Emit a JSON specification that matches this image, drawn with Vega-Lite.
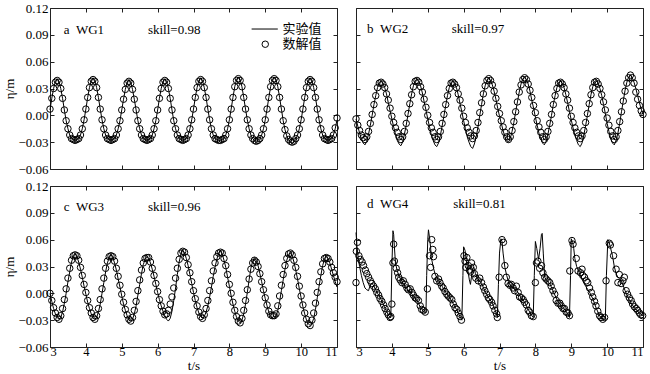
{
"$schema":"https://vega.github.io/schema/vega-lite/v6.json",
"background":"white",
"padding":{"left":3,"top":1,"right":0,"bottom":0},
"datasets":{"w":[
{"p":"a","t":3,"e":0.006,"n":0.007},{"p":"a","t":3.05,"e":0.019,"n":0.019},{"p":"a","t":3.1,"e":0.030,"n":0.030},{"p":"a","t":3.15,"e":0.038,"n":0.037},{"p":"a","t":3.2,"e":0.041,"n":0.039},{"p":"a","t":3.25,"e":0.038,"n":0.037},{"p":"a","t":3.3,"e":0.030,"n":0.030},{"p":"a","t":3.35,"e":0.019,"n":0.019},{"p":"a","t":3.4,"e":0.006,"n":0.006},{"p":"a","t":3.45,"e":-0.006,"n":-0.006},{"p":"a","t":3.5,"e":-0.015,"n":-0.015},{"p":"a","t":3.55,"e":-0.022,"n":-0.022},{"p":"a","t":3.6,"e":-0.026,"n":-0.026},{"p":"a","t":3.65,"e":-0.027,"n":-0.027},{"p":"a","t":3.7,"e":-0.028,"n":-0.028},{"p":"a","t":3.75,"e":-0.027,"n":-0.027},{"p":"a","t":3.8,"e":-0.026,"n":-0.026},{"p":"a","t":3.85,"e":-0.022,"n":-0.022},{"p":"a","t":3.9,"e":-0.015,"n":-0.015},{"p":"a","t":3.95,"e":-0.005,"n":-0.005},
{"p":"a","t":4,"e":0.007,"n":0.007},{"p":"a","t":4.05,"e":0.020,"n":0.020},{"p":"a","t":4.1,"e":0.031,"n":0.031},{"p":"a","t":4.15,"e":0.039,"n":0.038},{"p":"a","t":4.2,"e":0.042,"n":0.040},{"p":"a","t":4.25,"e":0.039,"n":0.038},{"p":"a","t":4.3,"e":0.031,"n":0.031},{"p":"a","t":4.35,"e":0.020,"n":0.020},{"p":"a","t":4.4,"e":0.007,"n":0.007},{"p":"a","t":4.45,"e":-0.005,"n":-0.005},{"p":"a","t":4.5,"e":-0.015,"n":-0.015},{"p":"a","t":4.55,"e":-0.022,"n":-0.022},{"p":"a","t":4.6,"e":-0.026,"n":-0.026},{"p":"a","t":4.65,"e":-0.027,"n":-0.027},{"p":"a","t":4.7,"e":-0.028,"n":-0.028},{"p":"a","t":4.75,"e":-0.027,"n":-0.027},{"p":"a","t":4.8,"e":-0.026,"n":-0.026},{"p":"a","t":4.85,"e":-0.022,"n":-0.022},{"p":"a","t":4.9,"e":-0.015,"n":-0.015},{"p":"a","t":4.95,"e":-0.006,"n":-0.006},
{"p":"a","t":5,"e":0.006,"n":0.006},{"p":"a","t":5.05,"e":0.018,"n":0.018},{"p":"a","t":5.1,"e":0.029,"n":0.029},{"p":"a","t":5.15,"e":0.037,"n":0.036},{"p":"a","t":5.2,"e":0.040,"n":0.038},{"p":"a","t":5.25,"e":0.037,"n":0.036},{"p":"a","t":5.3,"e":0.029,"n":0.029},{"p":"a","t":5.35,"e":0.018,"n":0.018},{"p":"a","t":5.4,"e":0.006,"n":0.006},{"p":"a","t":5.45,"e":-0.006,"n":-0.006},{"p":"a","t":5.5,"e":-0.015,"n":-0.015},{"p":"a","t":5.55,"e":-0.022,"n":-0.022},{"p":"a","t":5.6,"e":-0.026,"n":-0.026},{"p":"a","t":5.65,"e":-0.027,"n":-0.027},{"p":"a","t":5.7,"e":-0.028,"n":-0.028},{"p":"a","t":5.75,"e":-0.027,"n":-0.027},{"p":"a","t":5.8,"e":-0.026,"n":-0.026},{"p":"a","t":5.85,"e":-0.022,"n":-0.022},{"p":"a","t":5.9,"e":-0.015,"n":-0.015},{"p":"a","t":5.95,"e":-0.006,"n":-0.006},
{"p":"a","t":6,"e":0.006,"n":0.006},{"p":"a","t":6.05,"e":0.019,"n":0.019},{"p":"a","t":6.1,"e":0.030,"n":0.030},{"p":"a","t":6.15,"e":0.038,"n":0.037},{"p":"a","t":6.2,"e":0.041,"n":0.039},{"p":"a","t":6.25,"e":0.038,"n":0.037},{"p":"a","t":6.3,"e":0.030,"n":0.030},{"p":"a","t":6.35,"e":0.019,"n":0.019},{"p":"a","t":6.4,"e":0.006,"n":0.006},{"p":"a","t":6.45,"e":-0.006,"n":-0.006},{"p":"a","t":6.5,"e":-0.015,"n":-0.015},{"p":"a","t":6.55,"e":-0.022,"n":-0.022},{"p":"a","t":6.6,"e":-0.026,"n":-0.026},{"p":"a","t":6.65,"e":-0.027,"n":-0.027},{"p":"a","t":6.7,"e":-0.028,"n":-0.028},{"p":"a","t":6.75,"e":-0.027,"n":-0.027},{"p":"a","t":6.8,"e":-0.026,"n":-0.026},{"p":"a","t":6.85,"e":-0.022,"n":-0.022},{"p":"a","t":6.9,"e":-0.015,"n":-0.015},{"p":"a","t":6.95,"e":-0.005,"n":-0.005},
{"p":"a","t":7,"e":0.007,"n":0.007},{"p":"a","t":7.05,"e":0.020,"n":0.020},{"p":"a","t":7.1,"e":0.031,"n":0.031},{"p":"a","t":7.15,"e":0.039,"n":0.038},{"p":"a","t":7.2,"e":0.042,"n":0.040},{"p":"a","t":7.25,"e":0.039,"n":0.038},{"p":"a","t":7.3,"e":0.031,"n":0.031},{"p":"a","t":7.35,"e":0.020,"n":0.020},{"p":"a","t":7.4,"e":0.007,"n":0.007},{"p":"a","t":7.45,"e":-0.005,"n":-0.005},{"p":"a","t":7.5,"e":-0.015,"n":-0.015},{"p":"a","t":7.55,"e":-0.022,"n":-0.022},{"p":"a","t":7.6,"e":-0.026,"n":-0.026},{"p":"a","t":7.65,"e":-0.027,"n":-0.027},{"p":"a","t":7.7,"e":-0.028,"n":-0.028},{"p":"a","t":7.75,"e":-0.028,"n":-0.028},{"p":"a","t":7.8,"e":-0.027,"n":-0.027},{"p":"a","t":7.85,"e":-0.026,"n":-0.026},{"p":"a","t":7.9,"e":-0.022,"n":-0.022},{"p":"a","t":7.95,"e":-0.015,"n":-0.015},
{"p":"a","t":8,"e":-0.005,"n":-0.005},{"p":"a","t":8.05,"e":0.007,"n":0.007},{"p":"a","t":8.1,"e":0.020,"n":0.020},{"p":"a","t":8.15,"e":0.032,"n":0.032},{"p":"a","t":8.2,"e":0.040,"n":0.039},{"p":"a","t":8.25,"e":0.043,"n":0.041},{"p":"a","t":8.3,"e":0.040,"n":0.039},{"p":"a","t":8.35,"e":0.032,"n":0.032},{"p":"a","t":8.4,"e":0.020,"n":0.020},{"p":"a","t":8.45,"e":0.007,"n":0.007},{"p":"a","t":8.5,"e":-0.005,"n":-0.005},{"p":"a","t":8.55,"e":-0.015,"n":-0.015},{"p":"a","t":8.6,"e":-0.022,"n":-0.022},{"p":"a","t":8.65,"e":-0.026,"n":-0.026},{"p":"a","t":8.7,"e":-0.028,"n":-0.028},{"p":"a","t":8.75,"e":-0.029,"n":-0.029},{"p":"a","t":8.8,"e":-0.028,"n":-0.028},{"p":"a","t":8.85,"e":-0.026,"n":-0.026},{"p":"a","t":8.9,"e":-0.022,"n":-0.022},{"p":"a","t":8.95,"e":-0.015,"n":-0.015},
{"p":"a","t":9,"e":-0.005,"n":-0.005},{"p":"a","t":9.05,"e":0.007,"n":0.007},{"p":"a","t":9.1,"e":0.020,"n":0.020},{"p":"a","t":9.15,"e":0.032,"n":0.032},{"p":"a","t":9.2,"e":0.040,"n":0.039},{"p":"a","t":9.25,"e":0.043,"n":0.041},{"p":"a","t":9.3,"e":0.040,"n":0.039},{"p":"a","t":9.35,"e":0.032,"n":0.032},{"p":"a","t":9.4,"e":0.020,"n":0.020},{"p":"a","t":9.45,"e":0.007,"n":0.007},{"p":"a","t":9.5,"e":-0.006,"n":-0.006},{"p":"a","t":9.55,"e":-0.016,"n":-0.016},{"p":"a","t":9.6,"e":-0.023,"n":-0.023},{"p":"a","t":9.65,"e":-0.028,"n":-0.027},{"p":"a","t":9.7,"e":-0.030,"n":-0.029},{"p":"a","t":9.75,"e":-0.031,"n":-0.030},{"p":"a","t":9.8,"e":-0.030,"n":-0.029},{"p":"a","t":9.85,"e":-0.027,"n":-0.026},{"p":"a","t":9.9,"e":-0.022,"n":-0.022},{"p":"a","t":9.95,"e":-0.015,"n":-0.015},
{"p":"a","t":10,"e":-0.005,"n":-0.005},{"p":"a","t":10.05,"e":0.007,"n":0.007},{"p":"a","t":10.1,"e":0.020,"n":0.020},{"p":"a","t":10.15,"e":0.031,"n":0.031},{"p":"a","t":10.2,"e":0.039,"n":0.038},{"p":"a","t":10.25,"e":0.042,"n":0.040},{"p":"a","t":10.3,"e":0.039,"n":0.038},{"p":"a","t":10.35,"e":0.031,"n":0.031},{"p":"a","t":10.4,"e":0.020,"n":0.020},{"p":"a","t":10.45,"e":0.007,"n":0.007},{"p":"a","t":10.5,"e":-0.005,"n":-0.005},{"p":"a","t":10.55,"e":-0.015,"n":-0.015},{"p":"a","t":10.6,"e":-0.022,"n":-0.022},{"p":"a","t":10.65,"e":-0.026,"n":-0.026},{"p":"a","t":10.7,"e":-0.027,"n":-0.027},{"p":"a","t":10.75,"e":-0.028,"n":-0.028},{"p":"a","t":10.8,"e":-0.027,"n":-0.027},{"p":"a","t":10.85,"e":-0.026,"n":-0.026},{"p":"a","t":10.9,"e":-0.022,"n":-0.022},{"p":"a","t":10.95,"e":-0.015,"n":-0.014},{"p":"a","t":11,"e":-0.005,"n":-0.003},

{"p":"b","t":3,"e":-0.004,"n":-0.004},{"p":"b","t":3.05,"e":-0.012,"n":-0.011},{"p":"b","t":3.1,"e":-0.020,"n":-0.017},{"p":"b","t":3.15,"e":-0.026,"n":-0.022},{"p":"b","t":3.2,"e":-0.031,"n":-0.025},{"p":"b","t":3.25,"e":-0.033,"n":-0.027},{"p":"b","t":3.3,"e":-0.029,"n":-0.024},{"p":"b","t":3.35,"e":-0.021,"n":-0.018},{"p":"b","t":3.4,"e":-0.011,"n":-0.009},{"p":"b","t":3.45,"e":0.000,"n":0.001},{"p":"b","t":3.5,"e":0.012,"n":0.012},{"p":"b","t":3.55,"e":0.022,"n":0.022},{"p":"b","t":3.6,"e":0.031,"n":0.031},{"p":"b","t":3.65,"e":0.037,"n":0.036},{"p":"b","t":3.7,"e":0.038,"n":0.037},{"p":"b","t":3.75,"e":0.036,"n":0.035},{"p":"b","t":3.8,"e":0.031,"n":0.031},{"p":"b","t":3.85,"e":0.024,"n":0.024},{"p":"b","t":3.9,"e":0.014,"n":0.017},{"p":"b","t":3.95,"e":0.005,"n":0.008},
{"p":"b","t":4,"e":-0.004,"n":-0.001},{"p":"b","t":4.05,"e":-0.013,"n":-0.008},{"p":"b","t":4.1,"e":-0.021,"n":-0.014},{"p":"b","t":4.15,"e":-0.028,"n":-0.019},{"p":"b","t":4.2,"e":-0.032,"n":-0.024},{"p":"b","t":4.25,"e":-0.034,"n":-0.027},{"p":"b","t":4.3,"e":-0.030,"n":-0.024},{"p":"b","t":4.35,"e":-0.021,"n":-0.018},{"p":"b","t":4.4,"e":-0.011,"n":-0.009},{"p":"b","t":4.45,"e":0.001,"n":0.002},{"p":"b","t":4.5,"e":0.013,"n":0.013},{"p":"b","t":4.55,"e":0.024,"n":0.023},{"p":"b","t":4.6,"e":0.033,"n":0.032},{"p":"b","t":4.65,"e":0.039,"n":0.038},{"p":"b","t":4.7,"e":0.040,"n":0.039},{"p":"b","t":4.75,"e":0.038,"n":0.037},{"p":"b","t":4.8,"e":0.033,"n":0.032},{"p":"b","t":4.85,"e":0.025,"n":0.026},{"p":"b","t":4.9,"e":0.015,"n":0.018},{"p":"b","t":4.95,"e":0.006,"n":0.009},
{"p":"b","t":5,"e":-0.004,"n":0.000},{"p":"b","t":5.05,"e":-0.013,"n":-0.008},{"p":"b","t":5.1,"e":-0.022,"n":-0.014},{"p":"b","t":5.15,"e":-0.028,"n":-0.019},{"p":"b","t":5.2,"e":-0.033,"n":-0.024},{"p":"b","t":5.25,"e":-0.035,"n":-0.027},{"p":"b","t":5.3,"e":-0.031,"n":-0.024},{"p":"b","t":5.35,"e":-0.023,"n":-0.018},{"p":"b","t":5.4,"e":-0.012,"n":-0.009},{"p":"b","t":5.45,"e":-0.001,"n":0.001},{"p":"b","t":5.5,"e":0.011,"n":0.012},{"p":"b","t":5.55,"e":0.022,"n":0.022},{"p":"b","t":5.6,"e":0.031,"n":0.030},{"p":"b","t":5.65,"e":0.037,"n":0.036},{"p":"b","t":5.7,"e":0.038,"n":0.037},{"p":"b","t":5.75,"e":0.036,"n":0.035},{"p":"b","t":5.8,"e":0.031,"n":0.031},{"p":"b","t":5.85,"e":0.023,"n":0.024},{"p":"b","t":5.9,"e":0.013,"n":0.017},{"p":"b","t":5.95,"e":0.004,"n":0.008},
{"p":"b","t":6,"e":-0.006,"n":-0.001},{"p":"b","t":6.05,"e":-0.015,"n":-0.008},{"p":"b","t":6.1,"e":-0.024,"n":-0.014},{"p":"b","t":6.15,"e":-0.030,"n":-0.019},{"p":"b","t":6.2,"e":-0.035,"n":-0.023},{"p":"b","t":6.25,"e":-0.037,"n":-0.026},{"p":"b","t":6.3,"e":-0.032,"n":-0.023},{"p":"b","t":6.35,"e":-0.024,"n":-0.017},{"p":"b","t":6.4,"e":-0.013,"n":-0.008},{"p":"b","t":6.45,"e":0.000,"n":0.003},{"p":"b","t":6.5,"e":0.012,"n":0.014},{"p":"b","t":6.55,"e":0.024,"n":0.024},{"p":"b","t":6.6,"e":0.033,"n":0.033},{"p":"b","t":6.65,"e":0.039,"n":0.039},{"p":"b","t":6.7,"e":0.041,"n":0.041},{"p":"b","t":6.75,"e":0.039,"n":0.039},{"p":"b","t":6.8,"e":0.034,"n":0.034},{"p":"b","t":6.85,"e":0.027,"n":0.027},{"p":"b","t":6.9,"e":0.018,"n":0.019},{"p":"b","t":6.95,"e":0.008,"n":0.010},
{"p":"b","t":7,"e":-0.001,"n":0.002},{"p":"b","t":7.05,"e":-0.009,"n":-0.006},{"p":"b","t":7.1,"e":-0.017,"n":-0.013},{"p":"b","t":7.15,"e":-0.024,"n":-0.019},{"p":"b","t":7.2,"e":-0.028,"n":-0.024},{"p":"b","t":7.25,"e":-0.030,"n":-0.027},{"p":"b","t":7.3,"e":-0.026,"n":-0.024},{"p":"b","t":7.35,"e":-0.018,"n":-0.017},{"p":"b","t":7.4,"e":-0.008,"n":-0.007},{"p":"b","t":7.45,"e":0.004,"n":0.004},{"p":"b","t":7.5,"e":0.015,"n":0.015},{"p":"b","t":7.55,"e":0.026,"n":0.026},{"p":"b","t":7.6,"e":0.035,"n":0.034},{"p":"b","t":7.65,"e":0.041,"n":0.040},{"p":"b","t":7.7,"e":0.042,"n":0.042},{"p":"b","t":7.75,"e":0.040,"n":0.040},{"p":"b","t":7.8,"e":0.035,"n":0.035},{"p":"b","t":7.85,"e":0.027,"n":0.028},{"p":"b","t":7.9,"e":0.017,"n":0.020},{"p":"b","t":7.95,"e":0.008,"n":0.011},
{"p":"b","t":8,"e":-0.002,"n":0.003},{"p":"b","t":8.05,"e":-0.011,"n":-0.006},{"p":"b","t":8.1,"e":-0.020,"n":-0.013},{"p":"b","t":8.15,"e":-0.026,"n":-0.019},{"p":"b","t":8.2,"e":-0.031,"n":-0.024},{"p":"b","t":8.25,"e":-0.033,"n":-0.027},{"p":"b","t":8.3,"e":-0.029,"n":-0.024},{"p":"b","t":8.35,"e":-0.021,"n":-0.018},{"p":"b","t":8.4,"e":-0.011,"n":-0.009},{"p":"b","t":8.45,"e":0.000,"n":0.001},{"p":"b","t":8.5,"e":0.012,"n":0.012},{"p":"b","t":8.55,"e":0.022,"n":0.022},{"p":"b","t":8.6,"e":0.031,"n":0.030},{"p":"b","t":8.65,"e":0.037,"n":0.036},{"p":"b","t":8.7,"e":0.038,"n":0.037},{"p":"b","t":8.75,"e":0.036,"n":0.035},{"p":"b","t":8.8,"e":0.031,"n":0.031},{"p":"b","t":8.85,"e":0.023,"n":0.024},{"p":"b","t":8.9,"e":0.014,"n":0.017},{"p":"b","t":8.95,"e":0.004,"n":0.008},
{"p":"b","t":9,"e":-0.005,"n":-0.001},{"p":"b","t":9.05,"e":-0.014,"n":-0.008},{"p":"b","t":9.1,"e":-0.022,"n":-0.014},{"p":"b","t":9.15,"e":-0.028,"n":-0.019},{"p":"b","t":9.2,"e":-0.033,"n":-0.023},{"p":"b","t":9.25,"e":-0.035,"n":-0.026},{"p":"b","t":9.3,"e":-0.031,"n":-0.023},{"p":"b","t":9.35,"e":-0.022,"n":-0.017},{"p":"b","t":9.4,"e":-0.012,"n":-0.008},{"p":"b","t":9.45,"e":0.000,"n":0.002},{"p":"b","t":9.5,"e":0.012,"n":0.013},{"p":"b","t":9.55,"e":0.023,"n":0.023},{"p":"b","t":9.6,"e":0.032,"n":0.031},{"p":"b","t":9.65,"e":0.038,"n":0.037},{"p":"b","t":9.7,"e":0.039,"n":0.038},{"p":"b","t":9.75,"e":0.036,"n":0.035},{"p":"b","t":9.8,"e":0.030,"n":0.030},{"p":"b","t":9.85,"e":0.022,"n":0.023},{"p":"b","t":9.9,"e":0.012,"n":0.015},{"p":"b","t":9.95,"e":0.002,"n":0.006},
{"p":"b","t":10,"e":-0.009,"n":-0.003},{"p":"b","t":10.05,"e":-0.018,"n":-0.011},{"p":"b","t":10.1,"e":-0.026,"n":-0.018},{"p":"b","t":10.15,"e":-0.031,"n":-0.023},{"p":"b","t":10.2,"e":-0.033,"n":-0.027},{"p":"b","t":10.25,"e":-0.028,"n":-0.024},{"p":"b","t":10.3,"e":-0.020,"n":-0.017},{"p":"b","t":10.35,"e":-0.009,"n":-0.007},{"p":"b","t":10.4,"e":0.004,"n":0.004},{"p":"b","t":10.45,"e":0.016,"n":0.016},{"p":"b","t":10.5,"e":0.028,"n":0.027},{"p":"b","t":10.55,"e":0.037,"n":0.036},{"p":"b","t":10.6,"e":0.043,"n":0.042},{"p":"b","t":10.65,"e":0.045,"n":0.045},{"p":"b","t":10.7,"e":0.042,"n":0.042},{"p":"b","t":10.75,"e":0.037,"n":0.036},{"p":"b","t":10.8,"e":0.030,"n":0.026},{"p":"b","t":10.85,"e":0.022,"n":0.018},{"p":"b","t":10.9,"e":0.014,"n":0.011},{"p":"b","t":10.95,"e":0.007,"n":0.005},{"p":"b","t":11,"e":0.001,"n":0.001},

{"p":"c","t":3,"e":0.000,"n":0.000},{"p":"c","t":3.05,"e":-0.009,"n":-0.008},{"p":"c","t":3.1,"e":-0.017,"n":-0.016},{"p":"c","t":3.15,"e":-0.023,"n":-0.022},{"p":"c","t":3.2,"e":-0.027,"n":-0.027},{"p":"c","t":3.25,"e":-0.029,"n":-0.029},{"p":"c","t":3.3,"e":-0.027,"n":-0.025},{"p":"c","t":3.35,"e":-0.021,"n":-0.017},{"p":"c","t":3.4,"e":-0.011,"n":-0.007},{"p":"c","t":3.45,"e":0.000,"n":0.005},{"p":"c","t":3.5,"e":0.013,"n":0.017},{"p":"c","t":3.55,"e":0.024,"n":0.028},{"p":"c","t":3.6,"e":0.035,"n":0.037},{"p":"c","t":3.65,"e":0.041,"n":0.042},{"p":"c","t":3.7,"e":0.044,"n":0.043},{"p":"c","t":3.75,"e":0.041,"n":0.042},{"p":"c","t":3.8,"e":0.035,"n":0.037},{"p":"c","t":3.85,"e":0.027,"n":0.029},{"p":"c","t":3.9,"e":0.018,"n":0.020},{"p":"c","t":3.95,"e":0.008,"n":0.010},
{"p":"c","t":4,"e":-0.001,"n":0.001},{"p":"c","t":4.05,"e":-0.010,"n":-0.008},{"p":"c","t":4.1,"e":-0.017,"n":-0.016},{"p":"c","t":4.15,"e":-0.023,"n":-0.022},{"p":"c","t":4.2,"e":-0.028,"n":-0.027},{"p":"c","t":4.25,"e":-0.029,"n":-0.029},{"p":"c","t":4.3,"e":-0.027,"n":-0.025},{"p":"c","t":4.35,"e":-0.021,"n":-0.017},{"p":"c","t":4.4,"e":-0.012,"n":-0.007},{"p":"c","t":4.45,"e":0.000,"n":0.005},{"p":"c","t":4.5,"e":0.012,"n":0.017},{"p":"c","t":4.55,"e":0.024,"n":0.028},{"p":"c","t":4.6,"e":0.034,"n":0.036},{"p":"c","t":4.65,"e":0.040,"n":0.041},{"p":"c","t":4.7,"e":0.043,"n":0.042},{"p":"c","t":4.75,"e":0.040,"n":0.041},{"p":"c","t":4.8,"e":0.034,"n":0.036},{"p":"c","t":4.85,"e":0.026,"n":0.028},{"p":"c","t":4.9,"e":0.016,"n":0.019},{"p":"c","t":4.95,"e":0.007,"n":0.009},
{"p":"c","t":5,"e":-0.003,"n":-0.001},{"p":"c","t":5.05,"e":-0.012,"n":-0.010},{"p":"c","t":5.1,"e":-0.019,"n":-0.018},{"p":"c","t":5.15,"e":-0.025,"n":-0.024},{"p":"c","t":5.2,"e":-0.030,"n":-0.029},{"p":"c","t":5.25,"e":-0.031,"n":-0.031},{"p":"c","t":5.3,"e":-0.029,"n":-0.027},{"p":"c","t":5.35,"e":-0.023,"n":-0.019},{"p":"c","t":5.4,"e":-0.014,"n":-0.009},{"p":"c","t":5.45,"e":-0.002,"n":0.003},{"p":"c","t":5.5,"e":0.010,"n":0.015},{"p":"c","t":5.55,"e":0.022,"n":0.026},{"p":"c","t":5.6,"e":0.032,"n":0.034},{"p":"c","t":5.65,"e":0.038,"n":0.039},{"p":"c","t":5.7,"e":0.041,"n":0.040},{"p":"c","t":5.75,"e":0.039,"n":0.040},{"p":"c","t":5.8,"e":0.034,"n":0.035},{"p":"c","t":5.85,"e":0.027,"n":0.028},{"p":"c","t":5.9,"e":0.019,"n":0.020},{"p":"c","t":5.95,"e":0.010,"n":0.011},
{"p":"c","t":6,"e":0.001,"n":0.002},{"p":"c","t":6.05,"e":-0.007,"n":-0.007},{"p":"c","t":6.1,"e":-0.014,"n":-0.014},{"p":"c","t":6.15,"e":-0.020,"n":-0.020},{"p":"c","t":6.2,"e":-0.025,"n":-0.024},{"p":"c","t":6.25,"e":-0.029,"n":-0.023},{"p":"c","t":6.3,"e":-0.031,"n":-0.019},{"p":"c","t":6.35,"e":-0.028,"n":-0.012},{"p":"c","t":6.4,"e":-0.020,"n":-0.004},{"p":"c","t":6.45,"e":-0.008,"n":0.006},{"p":"c","t":6.5,"e":0.006,"n":0.017},{"p":"c","t":6.55,"e":0.021,"n":0.028},{"p":"c","t":6.6,"e":0.035,"n":0.038},{"p":"c","t":6.65,"e":0.044,"n":0.045},{"p":"c","t":6.7,"e":0.048,"n":0.047},{"p":"c","t":6.75,"e":0.045,"n":0.046},{"p":"c","t":6.8,"e":0.039,"n":0.040},{"p":"c","t":6.85,"e":0.031,"n":0.032},{"p":"c","t":6.9,"e":0.021,"n":0.023},{"p":"c","t":6.95,"e":0.011,"n":0.013},
{"p":"c","t":7,"e":0.001,"n":0.003},{"p":"c","t":7.05,"e":-0.008,"n":-0.006},{"p":"c","t":7.1,"e":-0.016,"n":-0.014},{"p":"c","t":7.15,"e":-0.022,"n":-0.021},{"p":"c","t":7.2,"e":-0.026,"n":-0.026},{"p":"c","t":7.25,"e":-0.028,"n":-0.028},{"p":"c","t":7.3,"e":-0.026,"n":-0.024},{"p":"c","t":7.35,"e":-0.021,"n":-0.017},{"p":"c","t":7.4,"e":-0.014,"n":-0.008},{"p":"c","t":7.45,"e":-0.004,"n":0.003},{"p":"c","t":7.5,"e":0.007,"n":0.014},{"p":"c","t":7.55,"e":0.019,"n":0.025},{"p":"c","t":7.6,"e":0.029,"n":0.034},{"p":"c","t":7.65,"e":0.038,"n":0.041},{"p":"c","t":7.7,"e":0.045,"n":0.045},{"p":"c","t":7.75,"e":0.047,"n":0.046},{"p":"c","t":7.8,"e":0.044,"n":0.045},{"p":"c","t":7.85,"e":0.037,"n":0.039},{"p":"c","t":7.9,"e":0.029,"n":0.031},{"p":"c","t":7.95,"e":0.018,"n":0.021},
{"p":"c","t":8,"e":0.008,"n":0.010},{"p":"c","t":8.05,"e":-0.003,"n":0.000},{"p":"c","t":8.1,"e":-0.012,"n":-0.010},{"p":"c","t":8.15,"e":-0.020,"n":-0.019},{"p":"c","t":8.2,"e":-0.027,"n":-0.026},{"p":"c","t":8.25,"e":-0.031,"n":-0.031},{"p":"c","t":8.3,"e":-0.033,"n":-0.033},{"p":"c","t":8.35,"e":-0.030,"n":-0.028},{"p":"c","t":8.4,"e":-0.023,"n":-0.019},{"p":"c","t":8.45,"e":-0.012,"n":-0.008},{"p":"c","t":8.5,"e":0.001,"n":0.004},{"p":"c","t":8.55,"e":0.015,"n":0.016},{"p":"c","t":8.6,"e":0.028,"n":0.027},{"p":"c","t":8.65,"e":0.036,"n":0.034},{"p":"c","t":8.7,"e":0.040,"n":0.037},{"p":"c","t":8.75,"e":0.037,"n":0.035},{"p":"c","t":8.8,"e":0.031,"n":0.030},{"p":"c","t":8.85,"e":0.022,"n":0.022},{"p":"c","t":8.9,"e":0.013,"n":0.013},{"p":"c","t":8.95,"e":0.003,"n":0.004},
{"p":"c","t":9,"e":-0.006,"n":-0.005},{"p":"c","t":9.05,"e":-0.014,"n":-0.013},{"p":"c","t":9.1,"e":-0.021,"n":-0.020},{"p":"c","t":9.15,"e":-0.026,"n":-0.024},{"p":"c","t":9.2,"e":-0.028,"n":-0.025},{"p":"c","t":9.25,"e":-0.028,"n":-0.025},{"p":"c","t":9.3,"e":-0.026,"n":-0.023},{"p":"c","t":9.35,"e":-0.019,"n":-0.014},{"p":"c","t":9.4,"e":-0.009,"n":-0.003},{"p":"c","t":9.45,"e":0.003,"n":0.009},{"p":"c","t":9.5,"e":0.015,"n":0.021},{"p":"c","t":9.55,"e":0.027,"n":0.031},{"p":"c","t":9.6,"e":0.037,"n":0.039},{"p":"c","t":9.65,"e":0.043,"n":0.044},{"p":"c","t":9.7,"e":0.045,"n":0.045},{"p":"c","t":9.75,"e":0.042,"n":0.043},{"p":"c","t":9.8,"e":0.035,"n":0.037},{"p":"c","t":9.85,"e":0.026,"n":0.029},{"p":"c","t":9.9,"e":0.016,"n":0.019},{"p":"c","t":9.95,"e":0.005,"n":0.008},
{"p":"c","t":10,"e":-0.005,"n":-0.003},{"p":"c","t":10.05,"e":-0.015,"n":-0.013},{"p":"c","t":10.1,"e":-0.023,"n":-0.022},{"p":"c","t":10.15,"e":-0.030,"n":-0.029},{"p":"c","t":10.2,"e":-0.034,"n":-0.034},{"p":"c","t":10.25,"e":-0.036,"n":-0.036},{"p":"c","t":10.3,"e":-0.034,"n":-0.030},{"p":"c","t":10.35,"e":-0.028,"n":-0.022},{"p":"c","t":10.4,"e":-0.018,"n":-0.011},{"p":"c","t":10.45,"e":-0.005,"n":0.001},{"p":"c","t":10.5,"e":0.008,"n":0.013},{"p":"c","t":10.55,"e":0.020,"n":0.024},{"p":"c","t":10.6,"e":0.031,"n":0.033},{"p":"c","t":10.65,"e":0.038,"n":0.039},{"p":"c","t":10.7,"e":0.041,"n":0.040},{"p":"c","t":10.75,"e":0.039,"n":0.039},{"p":"c","t":10.8,"e":0.034,"n":0.035},{"p":"c","t":10.85,"e":0.027,"n":0.029},{"p":"c","t":10.9,"e":0.020,"n":0.023},{"p":"c","t":10.95,"e":0.013,"n":0.018},{"p":"c","t":11,"e":0.007,"n":0.013},

{"p":"d","t":3,"e":0.068},{"p":"d","t":3.03,"e":0.052},{"p":"d","t":3.06,"e":0.040},{"p":"d","t":3.1,"e":0.030},{"p":"d","t":3.15,"e":0.020},{"p":"d","t":3.2,"e":0.012},{"p":"d","t":3.25,"e":0.006},{"p":"d","t":3.3,"e":0.004},{"p":"d","t":3.35,"e":0.003},{"p":"d","t":3.4,"e":0.010},{"p":"d","t":3.45,"e":0.011},{"p":"d","t":3.5,"e":0.008},{"p":"d","t":3.55,"e":0.004},{"p":"d","t":3.6,"e":0.000},{"p":"d","t":3.65,"e":-0.003},{"p":"d","t":3.7,"e":-0.007},{"p":"d","t":3.75,"e":-0.011},{"p":"d","t":3.8,"e":-0.016},{"p":"d","t":3.85,"e":-0.020},{"p":"d","t":3.9,"e":-0.024},{"p":"d","t":3.95,"e":-0.027},
{"p":"d","t":3.97,"e":-0.027},{"p":"d","t":4,"e":0.030},{"p":"d","t":4.03,"e":0.070},{"p":"d","t":4.05,"e":0.066},{"p":"d","t":4.07,"e":0.052},{"p":"d","t":4.1,"e":0.034},{"p":"d","t":4.15,"e":0.025},{"p":"d","t":4.2,"e":0.019},{"p":"d","t":4.3,"e":0.012},{"p":"d","t":4.4,"e":0.006},{"p":"d","t":4.5,"e":0.002},{"p":"d","t":4.6,"e":-0.003},{"p":"d","t":4.7,"e":-0.008},{"p":"d","t":4.8,"e":-0.016},{"p":"d","t":4.9,"e":-0.021},{"p":"d","t":4.95,"e":-0.022},
{"p":"d","t":4.97,"e":0.020},{"p":"d","t":5,"e":0.060},{"p":"d","t":5.02,"e":0.071},{"p":"d","t":5.05,"e":0.062},{"p":"d","t":5.08,"e":0.051},{"p":"d","t":5.1,"e":0.040},{"p":"d","t":5.15,"e":0.030},{"p":"d","t":5.2,"e":0.022},{"p":"d","t":5.3,"e":0.014},{"p":"d","t":5.4,"e":0.008},{"p":"d","t":5.5,"e":0.001},{"p":"d","t":5.6,"e":-0.004},{"p":"d","t":5.7,"e":-0.011},{"p":"d","t":5.8,"e":-0.018},{"p":"d","t":5.9,"e":-0.026},{"p":"d","t":5.95,"e":-0.030},
{"p":"d","t":5.98,"e":0.020},{"p":"d","t":6,"e":0.052},{"p":"d","t":6.04,"e":0.048},{"p":"d","t":6.08,"e":0.035},{"p":"d","t":6.12,"e":0.025},{"p":"d","t":6.16,"e":0.015},{"p":"d","t":6.19,"e":0.010},{"p":"d","t":6.23,"e":0.022},{"p":"d","t":6.28,"e":0.030},{"p":"d","t":6.33,"e":0.022},{"p":"d","t":6.4,"e":0.016},{"p":"d","t":6.5,"e":0.011},{"p":"d","t":6.6,"e":0.002},{"p":"d","t":6.7,"e":-0.005},{"p":"d","t":6.8,"e":-0.011},{"p":"d","t":6.9,"e":-0.021},{"p":"d","t":6.94,"e":-0.027},
{"p":"d","t":6.97,"e":0.010},{"p":"d","t":7,"e":0.045},{"p":"d","t":7.04,"e":0.061},{"p":"d","t":7.07,"e":0.058},{"p":"d","t":7.1,"e":0.045},{"p":"d","t":7.15,"e":0.029},{"p":"d","t":7.2,"e":0.020},{"p":"d","t":7.25,"e":0.013},{"p":"d","t":7.3,"e":0.009},{"p":"d","t":7.4,"e":0.005},{"p":"d","t":7.5,"e":0.002},{"p":"d","t":7.6,"e":-0.005},{"p":"d","t":7.7,"e":-0.010},{"p":"d","t":7.8,"e":-0.018},{"p":"d","t":7.9,"e":-0.025},{"p":"d","t":7.94,"e":-0.027},
{"p":"d","t":7.97,"e":0.020},{"p":"d","t":8,"e":0.058},{"p":"d","t":8.04,"e":0.050},{"p":"d","t":8.09,"e":0.038},{"p":"d","t":8.13,"e":0.050},{"p":"d","t":8.17,"e":0.066},{"p":"d","t":8.19,"e":0.067},{"p":"d","t":8.22,"e":0.045},{"p":"d","t":8.26,"e":0.018},{"p":"d","t":8.3,"e":0.015},{"p":"d","t":8.4,"e":0.011},{"p":"d","t":8.5,"e":0.002},{"p":"d","t":8.6,"e":-0.007},{"p":"d","t":8.7,"e":-0.013},{"p":"d","t":8.8,"e":-0.017},{"p":"d","t":8.9,"e":-0.023},{"p":"d","t":8.95,"e":-0.027},
{"p":"d","t":8.98,"e":0.020},{"p":"d","t":9,"e":0.061},{"p":"d","t":9.04,"e":0.057},{"p":"d","t":9.07,"e":0.050},{"p":"d","t":9.1,"e":0.039},{"p":"d","t":9.15,"e":0.030},{"p":"d","t":9.2,"e":0.025},{"p":"d","t":9.3,"e":0.016},{"p":"d","t":9.4,"e":0.008},{"p":"d","t":9.5,"e":0.002},{"p":"d","t":9.6,"e":-0.006},{"p":"d","t":9.7,"e":-0.017},{"p":"d","t":9.8,"e":-0.026},{"p":"d","t":9.9,"e":-0.029},{"p":"d","t":9.95,"e":-0.029},
{"p":"d","t":9.98,"e":0.020},{"p":"d","t":10.02,"e":0.060},{"p":"d","t":10.05,"e":0.058},{"p":"d","t":10.1,"e":0.050},{"p":"d","t":10.15,"e":0.042},{"p":"d","t":10.2,"e":0.030},{"p":"d","t":10.25,"e":0.022},{"p":"d","t":10.3,"e":0.018},{"p":"d","t":10.4,"e":0.014},{"p":"d","t":10.5,"e":0.003},{"p":"d","t":10.6,"e":-0.006},{"p":"d","t":10.7,"e":-0.013},{"p":"d","t":10.8,"e":-0.018},{"p":"d","t":10.9,"e":-0.022},{"p":"d","t":11,"e":-0.025},

{"p":"d","t":3,"n":0.012},{"p":"d","t":3.01,"n":0.047},{"p":"d","t":3.04,"n":0.057},{"p":"d","t":3.08,"n":0.042},{"p":"d","t":3.12,"n":0.038},{"p":"d","t":3.17,"n":0.035},{"p":"d","t":3.21,"n":0.031},{"p":"d","t":3.26,"n":0.026},{"p":"d","t":3.3,"n":0.022},{"p":"d","t":3.35,"n":0.018},{"p":"d","t":3.4,"n":0.014},{"p":"d","t":3.44,"n":0.011},{"p":"d","t":3.49,"n":0.008},{"p":"d","t":3.54,"n":0.005},{"p":"d","t":3.58,"n":0.001},{"p":"d","t":3.63,"n":-0.002},{"p":"d","t":3.67,"n":-0.006},{"p":"d","t":3.72,"n":-0.009},{"p":"d","t":3.77,"n":-0.013},{"p":"d","t":3.81,"n":-0.017},{"p":"d","t":3.86,"n":-0.021},{"p":"d","t":3.9,"n":-0.024},{"p":"d","t":3.95,"n":-0.027},{"p":"d","t":3.97,"n":-0.026},
{"p":"d","t":4,"n":-0.012},{"p":"d","t":4.03,"n":0.034},{"p":"d","t":4.05,"n":0.055},{"p":"d","t":4.07,"n":0.036},{"p":"d","t":4.12,"n":0.028},{"p":"d","t":4.16,"n":0.023},{"p":"d","t":4.19,"n":0.018},{"p":"d","t":4.23,"n":0.015},{"p":"d","t":4.28,"n":0.012},{"p":"d","t":4.32,"n":0.014},{"p":"d","t":4.37,"n":0.010},{"p":"d","t":4.42,"n":0.006},{"p":"d","t":4.46,"n":0.004},{"p":"d","t":4.51,"n":0.005},{"p":"d","t":4.56,"n":0.001},{"p":"d","t":4.6,"n":-0.002},{"p":"d","t":4.65,"n":-0.005},{"p":"d","t":4.69,"n":-0.006},{"p":"d","t":4.74,"n":-0.008},{"p":"d","t":4.79,"n":-0.014},{"p":"d","t":4.83,"n":-0.018},{"p":"d","t":4.88,"n":-0.019},{"p":"d","t":4.93,"n":-0.021},
{"p":"d","t":4.99,"n":0.005},{"p":"d","t":5.05,"n":0.042},{"p":"d","t":5.08,"n":0.029},{"p":"d","t":5.11,"n":0.060},{"p":"d","t":5.14,"n":0.049},{"p":"d","t":5.16,"n":0.041},{"p":"d","t":5.2,"n":0.019},{"p":"d","t":5.25,"n":0.014},{"p":"d","t":5.3,"n":0.016},{"p":"d","t":5.34,"n":0.012},{"p":"d","t":5.39,"n":0.008},{"p":"d","t":5.43,"n":0.006},{"p":"d","t":5.48,"n":0.002},{"p":"d","t":5.53,"n":-0.001},{"p":"d","t":5.57,"n":-0.003},{"p":"d","t":5.62,"n":-0.005},{"p":"d","t":5.67,"n":-0.007},{"p":"d","t":5.71,"n":-0.012},{"p":"d","t":5.76,"n":-0.016},{"p":"d","t":5.81,"n":-0.018},{"p":"d","t":5.85,"n":-0.022},{"p":"d","t":5.9,"n":-0.026},{"p":"d","t":5.94,"n":-0.030},
{"p":"d","t":6.01,"n":0.042},{"p":"d","t":6.04,"n":0.036},{"p":"d","t":6.06,"n":0.029},{"p":"d","t":6.09,"n":0.040},{"p":"d","t":6.13,"n":0.031},{"p":"d","t":6.16,"n":0.026},{"p":"d","t":6.19,"n":0.024},{"p":"d","t":6.22,"n":0.034},{"p":"d","t":6.27,"n":0.029},{"p":"d","t":6.3,"n":0.022},{"p":"d","t":6.34,"n":0.017},{"p":"d","t":6.41,"n":0.014},{"p":"d","t":6.45,"n":0.017},{"p":"d","t":6.5,"n":0.012},{"p":"d","t":6.55,"n":0.007},{"p":"d","t":6.59,"n":0.003},{"p":"d","t":6.64,"n":-0.001},{"p":"d","t":6.69,"n":-0.005},{"p":"d","t":6.73,"n":-0.007},{"p":"d","t":6.78,"n":-0.010},{"p":"d","t":6.82,"n":-0.014},{"p":"d","t":6.87,"n":-0.019},{"p":"d","t":6.92,"n":-0.023},{"p":"d","t":6.94,"n":-0.027},
{"p":"d","t":6.99,"n":0.018},{"p":"d","t":7.07,"n":0.060},{"p":"d","t":7.11,"n":0.057},{"p":"d","t":7.15,"n":0.031},{"p":"d","t":7.19,"n":0.018},{"p":"d","t":7.24,"n":0.011},{"p":"d","t":7.29,"n":0.009},{"p":"d","t":7.33,"n":0.010},{"p":"d","t":7.38,"n":0.006},{"p":"d","t":7.42,"n":0.003},{"p":"d","t":7.47,"n":0.008},{"p":"d","t":7.52,"n":0.001},{"p":"d","t":7.56,"n":-0.004},{"p":"d","t":7.61,"n":-0.005},{"p":"d","t":7.66,"n":-0.007},{"p":"d","t":7.7,"n":-0.010},{"p":"d","t":7.75,"n":-0.013},{"p":"d","t":7.8,"n":-0.019},{"p":"d","t":7.84,"n":-0.021},{"p":"d","t":7.89,"n":-0.025},{"p":"d","t":7.94,"n":-0.026},
{"p":"d","t":8,"n":0.012},{"p":"d","t":8.03,"n":0.034},{"p":"d","t":8.07,"n":0.036},{"p":"d","t":8.12,"n":0.028},{"p":"d","t":8.17,"n":0.031},{"p":"d","t":8.21,"n":0.023},{"p":"d","t":8.26,"n":0.018},{"p":"d","t":8.3,"n":0.016},{"p":"d","t":8.35,"n":0.014},{"p":"d","t":8.4,"n":0.012},{"p":"d","t":8.44,"n":0.008},{"p":"d","t":8.49,"n":0.003},{"p":"d","t":8.54,"n":-0.001},{"p":"d","t":8.58,"n":-0.008},{"p":"d","t":8.63,"n":-0.011},{"p":"d","t":8.68,"n":-0.011},{"p":"d","t":8.72,"n":-0.014},{"p":"d","t":8.77,"n":-0.017},{"p":"d","t":8.81,"n":-0.017},{"p":"d","t":8.86,"n":-0.021},{"p":"d","t":8.91,"n":-0.022},{"p":"d","t":8.95,"n":-0.025},
{"p":"d","t":8.96,"n":0.025},{"p":"d","t":9.02,"n":0.059},{"p":"d","t":9.05,"n":0.055},{"p":"d","t":9.14,"n":0.039},{"p":"d","t":9.19,"n":0.025},{"p":"d","t":9.26,"n":0.023},{"p":"d","t":9.3,"n":0.027},{"p":"d","t":9.32,"n":0.020},{"p":"d","t":9.37,"n":0.018},{"p":"d","t":9.42,"n":0.014},{"p":"d","t":9.46,"n":0.012},{"p":"d","t":9.51,"n":0.006},{"p":"d","t":9.56,"n":0.001},{"p":"d","t":9.6,"n":-0.004},{"p":"d","t":9.65,"n":-0.009},{"p":"d","t":9.69,"n":-0.014},{"p":"d","t":9.74,"n":-0.020},{"p":"d","t":9.79,"n":-0.025},{"p":"d","t":9.83,"n":-0.027},{"p":"d","t":9.88,"n":-0.029},{"p":"d","t":9.93,"n":-0.027},
{"p":"d","t":9.97,"n":0.014},{"p":"d","t":10.06,"n":0.056},{"p":"d","t":10.09,"n":0.054},{"p":"d","t":10.18,"n":0.042},{"p":"d","t":10.25,"n":0.027},{"p":"d","t":10.3,"n":0.012},{"p":"d","t":10.34,"n":0.021},{"p":"d","t":10.39,"n":0.011},{"p":"d","t":10.44,"n":0.014},{"p":"d","t":10.48,"n":0.018},{"p":"d","t":10.53,"n":0.003},{"p":"d","t":10.57,"n":-0.001},{"p":"d","t":10.62,"n":-0.005},{"p":"d","t":10.67,"n":-0.008},{"p":"d","t":10.71,"n":-0.012},{"p":"d","t":10.76,"n":-0.015},{"p":"d","t":10.81,"n":-0.017},{"p":"d","t":10.85,"n":-0.019},{"p":"d","t":10.9,"n":-0.022},{"p":"d","t":10.94,"n":-0.024},{"p":"d","t":10.99,"n":-0.025}
]},
"columns":2,
"spacing":{"row":17,"column":19},
"bounds":"flush",
"concat":[
{"width":287,"height":161,"layer":[
 {"data":{"name":"w"},"transform":[{"filter":"datum.p==='a' && isValid(datum.e)"}],"mark":{"type":"line","color":"#000","strokeWidth":1},
  "encoding":{"x":{"field":"t","type":"quantitative","scale":{"domain":[3,11],"nice":false,"zero":false},"axis":{"orient":"bottom","values":[3,4,5,6,7,8,9,10,11],"labels":false,"title":null}},
   "y":{"field":"e","type":"quantitative","scale":{"domain":[-0.06,0.12],"nice":false,"zero":false},"axis":{"orient":"left","values":[-0.06,-0.03,0,0.03,0.06,0.09,0.12],"format":".2f","title":"η/m"}}}},
 {"data":{"name":"w"},"transform":[{"filter":"datum.p==='a' && isValid(datum.n)"}],"mark":{"type":"point","shape":"circle","filled":false,"color":"#000","size":42,"strokeWidth":1,"opacity":1},
  "encoding":{"x":{"field":"t","type":"quantitative","scale":{"domain":[3,11],"nice":false,"zero":false},"axis":{"orient":"top","values":[3,4,5,6,7,8,9,10,11],"labels":false,"title":null}},
   "y":{"field":"n","type":"quantitative","scale":{"domain":[-0.06,0.12],"nice":false,"zero":false},"axis":{"orient":"right","values":[-0.06,-0.03,0,0.03,0.06,0.09,0.12],"labels":false,"title":null}}}},
 {"data":{"values":[{}]},"mark":{"type":"text","align":"left","baseline":"middle"},"encoding":{"x":{"datum":3.38,"type":"quantitative","axis":null},"y":{"datum":0.095,"type":"quantitative","axis":null},"text":{"value":"a\u00a0\u00a0WG1"}}},
 {"data":{"values":[{}]},"mark":{"type":"text","align":"left","baseline":"middle"},"encoding":{"x":{"datum":5.73,"type":"quantitative","axis":null},"y":{"datum":0.095,"type":"quantitative","axis":null},"text":{"value":"skill=0.98"}}},
 {"data":{"values":[{}]},"mark":{"type":"rule","color":"#000","strokeWidth":1},"encoding":{"x":{"datum":8.62,"type":"quantitative","axis":null},"x2":{"datum":9.35},"y":{"datum":0.0965,"type":"quantitative","axis":null}}},
 {"data":{"values":[{}]},"mark":{"type":"point","shape":"circle","filled":false,"color":"#000","size":42,"strokeWidth":1,"opacity":1},"encoding":{"x":{"datum":9.0,"type":"quantitative","axis":null},"y":{"datum":0.0795,"type":"quantitative","axis":null}}},
 {"data":{"values":[{}]},"mark":{"type":"text","align":"left","baseline":"middle"},"encoding":{"x":{"datum":9.48,"type":"quantitative","axis":null},"y":{"datum":0.0965,"type":"quantitative","axis":null},"text":{"value":"实验值"}}},
 {"data":{"values":[{}]},"mark":{"type":"text","align":"left","baseline":"middle"},"encoding":{"x":{"datum":9.48,"type":"quantitative","axis":null},"y":{"datum":0.0795,"type":"quantitative","axis":null},"text":{"value":"数解值"}}}
]},
{"width":287,"height":161,"layer":[
 {"data":{"name":"w"},"transform":[{"filter":"datum.p==='b' && isValid(datum.e)"}],"mark":{"type":"line","color":"#000","strokeWidth":1},
  "encoding":{"x":{"field":"t","type":"quantitative","scale":{"domain":[3,11],"nice":false,"zero":false},"axis":{"orient":"bottom","values":[3,4,5,6,7,8,9,10,11],"labels":false,"title":null}},
   "y":{"field":"e","type":"quantitative","scale":{"domain":[-0.06,0.12],"nice":false,"zero":false},"axis":{"orient":"left","values":[-0.06,-0.03,0,0.03,0.06,0.09,0.12],"labels":false,"title":null}}}},
 {"data":{"name":"w"},"transform":[{"filter":"datum.p==='b' && isValid(datum.n)"}],"mark":{"type":"point","shape":"circle","filled":false,"color":"#000","size":42,"strokeWidth":1,"opacity":1},
  "encoding":{"x":{"field":"t","type":"quantitative","scale":{"domain":[3,11],"nice":false,"zero":false},"axis":{"orient":"top","values":[3,4,5,6,7,8,9,10,11],"labels":false,"title":null}},
   "y":{"field":"n","type":"quantitative","scale":{"domain":[-0.06,0.12],"nice":false,"zero":false},"axis":{"orient":"right","values":[-0.06,-0.03,0,0.03,0.06,0.09,0.12],"labels":false,"title":null}}}},
 {"data":{"values":[{}]},"mark":{"type":"text","align":"left","baseline":"middle"},"encoding":{"x":{"datum":3.31,"type":"quantitative","axis":null},"y":{"datum":0.096,"type":"quantitative","axis":null},"text":{"value":"b\u00a0\u00a0WG2"}}},
 {"data":{"values":[{}]},"mark":{"type":"text","align":"left","baseline":"middle"},"encoding":{"x":{"datum":5.67,"type":"quantitative","axis":null},"y":{"datum":0.096,"type":"quantitative","axis":null},"text":{"value":"skill=0.97"}}}
]},
{"width":287,"height":161,"layer":[
 {"data":{"name":"w"},"transform":[{"filter":"datum.p==='c' && isValid(datum.e)"}],"mark":{"type":"line","color":"#000","strokeWidth":1},
  "encoding":{"x":{"field":"t","type":"quantitative","scale":{"domain":[3,11],"nice":false,"zero":false},"axis":{"orient":"bottom","values":[3,4,5,6,7,8,9,10,11],"format":"d","title":"t/s"}},
   "y":{"field":"e","type":"quantitative","scale":{"domain":[-0.06,0.12],"nice":false,"zero":false},"axis":{"orient":"left","values":[-0.06,-0.03,0,0.03,0.06,0.09,0.12],"format":".2f","title":"η/m"}}}},
 {"data":{"name":"w"},"transform":[{"filter":"datum.p==='c' && isValid(datum.n)"}],"mark":{"type":"point","shape":"circle","filled":false,"color":"#000","size":42,"strokeWidth":1,"opacity":1},
  "encoding":{"x":{"field":"t","type":"quantitative","scale":{"domain":[3,11],"nice":false,"zero":false},"axis":{"orient":"top","values":[3,4,5,6,7,8,9,10,11],"labels":false,"title":null}},
   "y":{"field":"n","type":"quantitative","scale":{"domain":[-0.06,0.12],"nice":false,"zero":false},"axis":{"orient":"right","values":[-0.06,-0.03,0,0.03,0.06,0.09,0.12],"labels":false,"title":null}}}},
 {"data":{"values":[{}]},"mark":{"type":"text","align":"left","baseline":"middle"},"encoding":{"x":{"datum":3.38,"type":"quantitative","axis":null},"y":{"datum":0.0965,"type":"quantitative","axis":null},"text":{"value":"c\u00a0\u00a0WG3"}}},
 {"data":{"values":[{}]},"mark":{"type":"text","align":"left","baseline":"middle"},"encoding":{"x":{"datum":5.73,"type":"quantitative","axis":null},"y":{"datum":0.0965,"type":"quantitative","axis":null},"text":{"value":"skill=0.96"}}}
]},
{"width":287,"height":161,"layer":[
 {"data":{"name":"w"},"transform":[{"filter":"datum.p==='d' && isValid(datum.e)"}],"mark":{"type":"line","color":"#000","strokeWidth":1},
  "encoding":{"x":{"field":"t","type":"quantitative","scale":{"domain":[3,11],"nice":false,"zero":false},"axis":{"orient":"bottom","values":[3,4,5,6,7,8,9,10,11],"format":"d","title":"t/s"}},
   "y":{"field":"e","type":"quantitative","scale":{"domain":[-0.06,0.12],"nice":false,"zero":false},"axis":{"orient":"left","values":[-0.06,-0.03,0,0.03,0.06,0.09,0.12],"labels":false,"title":null}}}},
 {"data":{"name":"w"},"transform":[{"filter":"datum.p==='d' && isValid(datum.n)"}],"mark":{"type":"point","shape":"circle","filled":false,"color":"#000","size":42,"strokeWidth":1,"opacity":1},
  "encoding":{"x":{"field":"t","type":"quantitative","scale":{"domain":[3,11],"nice":false,"zero":false},"axis":{"orient":"top","values":[3,4,5,6,7,8,9,10,11],"labels":false,"title":null}},
   "y":{"field":"n","type":"quantitative","scale":{"domain":[-0.06,0.12],"nice":false,"zero":false},"axis":{"orient":"right","values":[-0.06,-0.03,0,0.03,0.06,0.09,0.12],"labels":false,"title":null}}}},
 {"data":{"values":[{}]},"mark":{"type":"text","align":"left","baseline":"middle"},"encoding":{"x":{"datum":3.31,"type":"quantitative","axis":null},"y":{"datum":0.1,"type":"quantitative","axis":null},"text":{"value":"d\u00a0\u00a0WG4"}}},
 {"data":{"values":[{}]},"mark":{"type":"text","align":"left","baseline":"middle"},"encoding":{"x":{"datum":5.71,"type":"quantitative","axis":null},"y":{"datum":0.1,"type":"quantitative","axis":null},"text":{"value":"skill=0.81"}}}
]}
],
"config":{
 "view":{"stroke":"#222","strokeWidth":1},
 "axis":{"grid":false,"domain":false,"tickColor":"#222","tickSize":-4,"tickWidth":1,"labelColor":"#000","labelFont":"Liberation Serif","titleFont":"Liberation Serif","titleFontSize":13,"titleFontWeight":"normal","titleColor":"#000"},
 "axisX":{"labelFontSize":12.5,"labelPadding":2.5,"titlePadding":1},
 "axisY":{"labelFontSize":13,"labelPadding":6,"titlePadding":1},
 "text":{"font":"Liberation Serif, Noto Sans CJK SC","fontSize":13,"color":"#000"}
}
}
